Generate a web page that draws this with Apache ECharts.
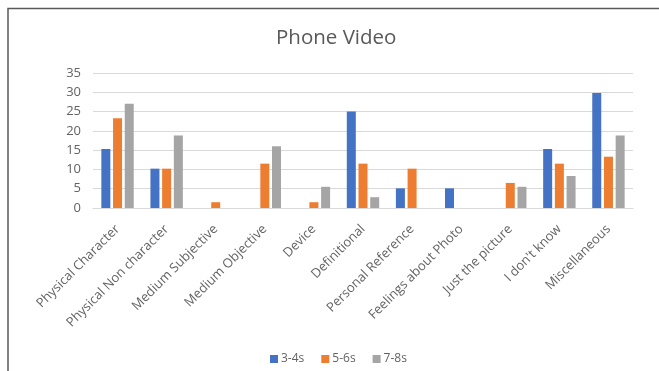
<!DOCTYPE html>
<html>
<head>
<meta charset="utf-8">
<script src="https://cdn.jsdelivr.net/npm/echarts@6/dist/echarts.min.js"></script>
<style>
  html, body { margin: 0; padding: 0; background: #fff; }
  #chart { width: 659px; height: 371px; }
</style>
</head>
<body>
<div id="chart"></div>
<script>
// Response categories and per-duration percentages
const categories = [
  'Physical Character', 'Physical Non character', 'Medium Subjective',
  'Medium Objective', 'Device', 'Definitional', 'Personal Reference',
  'Feelings about Photo', 'Just the picture', "I don't know", 'Miscellaneous'
];
const seriesNames = ['3-4s', '5-6s', '7-8s'];
const values34 = [15.3, 10.2, 0, 0, 0, 25.0, 5.1, 5.1, 0, 15.3, 29.8];
const values56 = [23.3, 10.2, 1.5, 11.5, 1.5, 11.5, 10.2, 0, 6.5, 11.5, 13.3];
const values78 = [27.0, 18.8, 0, 16.0, 5.5, 2.8, 0, 0, 5.5, 8.3, 18.8];
const colors = ['#4472C4', '#ED7D31', '#A5A5A5'];

const chart = echarts.init(document.getElementById('chart'));
const dataSets = [values34, values56, values78];
const textColor = '#636363';

chart.setOption({
  animation: false,
  title: {
    text: 'Phone Video',
    left: 271,
    top: 23,
    textStyle: { fontFamily: 'Open Sans', fontSize: 20.5, fontWeight: 'normal', color: '#595959' }
  },
  legend: {
    bottom: 1,
    left: 265,
    itemWidth: 8,
    itemHeight: 8,
    itemGap: 17,
    icon: 'rect',
    textStyle: { fontFamily: 'Open Sans', fontSize: 12, color: textColor, padding: [0, 0, 0, -2] },
    data: seriesNames
  },
  grid: { left: 93, right: 26, top: 73, bottom: 163, containLabel: false },
  xAxis: {
    type: 'category',
    data: categories,
    axisTick: { show: false },
    axisLine: { lineStyle: { color: '#D9D9D9' } },
    axisLabel: {
      rotate: 45,
      interval: 0,
      margin: 19,
      fontFamily: 'Open Sans',
      fontSize: 13,
      color: textColor
    }
  },
  yAxis: {
    type: 'value',
    min: 0,
    max: 35,
    interval: 5,
    axisLine: { show: false },
    axisTick: { show: false },
    splitLine: { lineStyle: { color: '#D9D9D9' } },
    axisLabel: { fontFamily: 'Open Sans', fontSize: 13, color: textColor, margin: 12 }
  },
  series: seriesNames.map((name, i) => ({
    name,
    type: 'bar',
    data: dataSets[i],
    barWidth: 9,
    barGap: '30%',
    itemStyle: { color: colors[i] }
  })),
  graphic: [
    {
      type: 'polyline',
      shape: { points: [[8, 371], [8, 8.5], [659, 8.5]] },
      style: { stroke: '#595959', lineWidth: 1.5, fill: null }
    }
  ]
});
</script>
</body>
</html>
